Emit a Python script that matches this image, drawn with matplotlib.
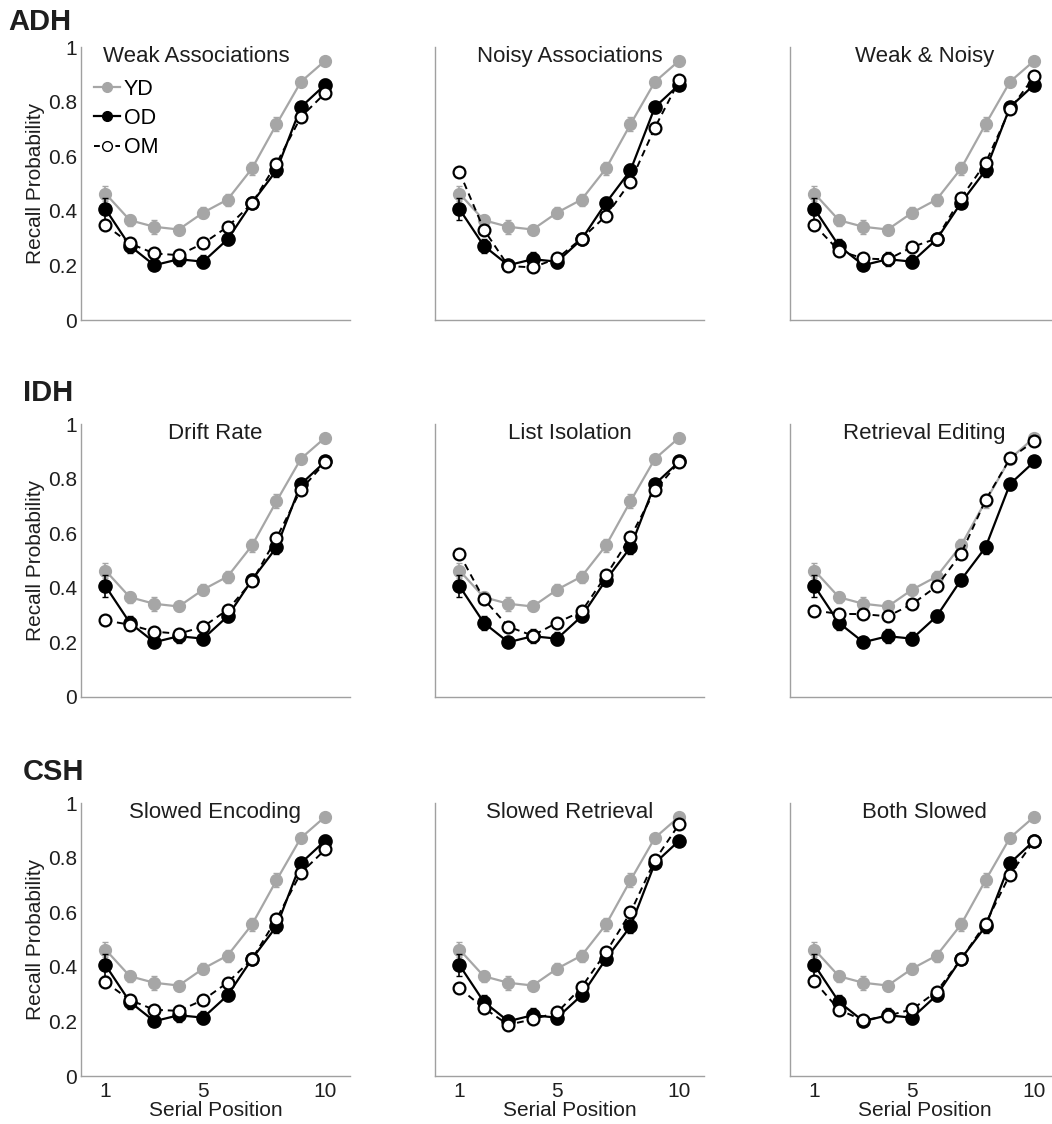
import numpy as np
import matplotlib
matplotlib.use("Agg")
import matplotlib.pyplot as plt
from matplotlib.lines import Line2D

plt.rcParams['font.family'] = ['Liberation Sans', 'DejaVu Sans']

# serial positions
pos = np.arange(1, 11)

# young data, older data (same in every panel)
yd = [0.464, 0.366, 0.342, 0.332, 0.394, 0.442, 0.556, 0.718, 0.874, 0.952]
yd_err = [0.027, 0.02, 0.025, 0.018, 0.02, 0.022, 0.025, 0.025, 0.012, 0.01]
od = [0.407, 0.272, 0.201, 0.223, 0.214, 0.296, 0.430, 0.549, 0.781, 0.864]
od_err = [0.04, 0.025, 0.015, 0.025, 0.025, 0.022, 0.02, 0.025, 0.02, 0.02]

# older model, one per panel
om_weak = [0.348, 0.281, 0.244, 0.238, 0.281, 0.342, 0.428, 0.574, 0.745, 0.833]
om_noisy = [0.543, 0.332, 0.198, 0.193, 0.226, 0.299, 0.382, 0.507, 0.706, 0.879]
om_weaknoisy = [0.348, 0.254, 0.226, 0.222, 0.268, 0.299, 0.448, 0.576, 0.773, 0.894]
om_drift = [0.281, 0.265, 0.240, 0.232, 0.258, 0.320, 0.424, 0.583, 0.761, 0.861]
om_isolation = [0.525, 0.359, 0.258, 0.225, 0.273, 0.314, 0.446, 0.587, 0.758, 0.863]
om_editing = [0.317, 0.305, 0.304, 0.296, 0.341, 0.406, 0.526, 0.722, 0.875, 0.939]
om_enc = [0.344, 0.279, 0.243, 0.239, 0.279, 0.343, 0.429, 0.576, 0.745, 0.831]
om_ret = [0.322, 0.249, 0.188, 0.208, 0.233, 0.326, 0.454, 0.600, 0.792, 0.925]
om_both = [0.347, 0.243, 0.204, 0.221, 0.245, 0.310, 0.429, 0.559, 0.739, 0.864]

titles = [["Weak Associations", "Noisy Associations", "Weak & Noisy"],
          ["Drift Rate", "List Isolation", "Retrieval Editing"],
          ["Slowed Encoding", "Slowed Retrieval", "Both Slowed"]]
om_all = [[om_weak, om_noisy, om_weaknoisy],
          [om_drift, om_isolation, om_editing],
          [om_enc, om_ret, om_both]]
row_names = ["ADH", "IDH", "CSH"]

fig = plt.figure(figsize=(10.52, 11.24), dpi=100)

lefts = [0.077, 0.4135, 0.751]
bottoms = [0.7153, 0.3799, 0.0427]
w, h = 0.2555, 0.2425
gray = '#a6a6a6'
spine_col = '#a0a0a0'
txt_col = '#1e1e1e'

for r in range(3):
    for c in range(3):
        ax = fig.add_axes([lefts[c], bottoms[r], w, h])
        ax.errorbar(pos, yd, yerr=yd_err, color=gray, lw=1.6, marker='o', ms=8.5,
                    mfc=gray, mec=gray, capsize=2, elinewidth=1.2, zorder=2)
        ax.errorbar(pos, od, yerr=od_err, color='black', lw=1.6, marker='o', ms=9.5,
                    mfc='black', mec='black', capsize=2, elinewidth=1.2, zorder=3)
        ax.plot(pos, om_all[r][c], color='black', lw=1.4, ls=(0, (3.5, 2.5)), marker='o',
                ms=8.5, mfc='white', mec='black', mew=1.6, zorder=4)
        ax.set_xlim(0, 11)
        ax.set_ylim(0, 1)
        ax.set_xticks([1, 5, 10])
        ax.set_yticks([0, 0.2, 0.4, 0.6, 0.8, 1])
        ax.tick_params(length=0, labelsize=15, colors=txt_col)
        ax.tick_params(axis='x', pad=4)
        ax.tick_params(axis='y', pad=3)
        for s in ['top', 'right']:
            ax.spines[s].set_visible(False)
        for s in ['left', 'bottom']:
            ax.spines[s].set_color(spine_col)
            ax.spines[s].set_linewidth(1.0)
        if c == 0:
            ax.set_yticklabels(['0', '0.2', '0.4', '0.6', '0.8', '1'])
            ax.set_ylabel('Recall Probability', fontsize=15, color=txt_col, labelpad=2)
        else:
            ax.set_yticklabels([])
        if r == 2:
            ax.set_xticklabels(['1', '5', '10'])
            ax.set_xlabel('Serial Position', fontsize=15, color=txt_col, labelpad=0)
        else:
            ax.set_xticklabels([])
        tx = 0.43 if (r == 0 and c == 0) else 0.5
        ax.text(tx, 0.965, titles[r][c], transform=ax.transAxes, ha='center', va='center',
                fontsize=16, color=txt_col)
        if r == 0 and c == 0:
            handles = [
                Line2D([], [], color=gray, lw=1.6, marker='o', ms=7, mfc=gray, mec=gray),
                Line2D([], [], color='black', lw=1.6, marker='o', ms=7, mfc='black', mec='black'),
                Line2D([], [], color='black', lw=1.4, ls=(0, (3, 2.5)), marker='o', ms=7,
                       mfc='white', mec='black', mew=1.0),
            ]
            ax.legend(handles, ['YD', 'OD', 'OM'], loc='upper left',
                      bbox_to_anchor=(0.05, 0.885), frameon=False,
                      fontsize=15.5, handlelength=1.2, handletextpad=0.15,
                      labelspacing=0.38, borderaxespad=0, borderpad=0)

row_y = [0.980, 0.650, 0.313]
row_x = [0.008, 0.022, 0.022]
for r in range(3):
    fig.text(row_x[r], row_y[r], row_names[r], fontsize=21, fontweight='bold',
             ha='left', va='center', color=txt_col)

fig.savefig('out.png', dpi=100)
